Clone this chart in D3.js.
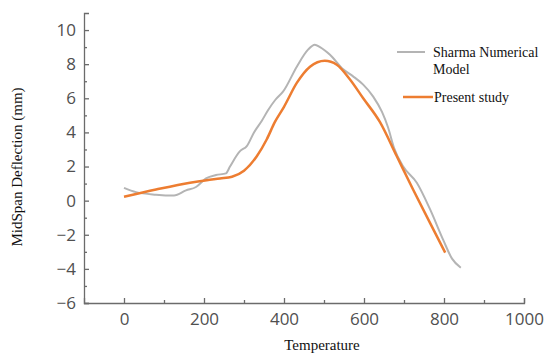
<!DOCTYPE html>
<html>
<head>
<meta charset="utf-8">
<script src="https://cdn.jsdelivr.net/npm/d3@7"></script>
<style>
  body { margin: 0; background: #fff; }
  svg { display: block; }
</style>
</head>
<body>
<div id="chart"></div>
<script>
// Sharma numerical model (grey)
const sharmaT = [0, 30, 80, 125, 155, 180, 205, 230, 255, 265, 290, 307, 325, 345, 360, 378, 398, 432, 460, 477, 490, 515, 548, 572, 598, 623, 645, 660, 675, 698, 732, 765, 798, 820, 842];
const sharmaD = [0.75, 0.5, 0.35, 0.3, 0.6, 0.8, 1.3, 1.5, 1.6, 2.0, 2.9, 3.2, 4.0, 4.7, 5.3, 5.9, 6.4, 7.85, 8.85, 9.14, 9.0, 8.55, 7.7, 7.3, 6.8, 6.1, 5.2, 4.3, 3.1, 2.0, 1.05, -0.5, -2.3, -3.4, -3.93];

// present study (orange)
const presentT = [0, 80, 165, 207, 240, 270, 300, 332, 357, 377, 400, 432, 465, 502, 532, 565, 598, 640, 682, 723, 765, 803];
const presentD = [0.23, 0.65, 1.05, 1.2, 1.3, 1.4, 1.75, 2.6, 3.6, 4.6, 5.5, 6.9, 7.85, 8.2, 7.97, 7.1, 6.0, 4.6, 2.6, 0.64, -1.3, -3.05];

const xTicks = [0, 200, 400, 600, 800, 1000];
const xMinor = [100, 300, 500, 700, 900];
const yTicks = [-6, -4, -2, 0, 2, 4, 6, 8, 10];
const yMinor = [-5, -3, -1, 1, 3, 5, 7, 9];

const w = 549, h = 353;
const svg = d3.select("#chart").append("svg")
    .attr("width", w)
    .attr("height", h);

const x = d3.scaleLinear().domain([-100, 1000]).range([84, 524]);
const y = d3.scaleLinear().domain([-6, 11]).range([303, 13]);

const axisColor = "#6b6b6b";
const labelColor = "#505050";

// x axis
svg.append("g").attr("transform", "translate(0,303)")
    .call(d3.axisBottom(x).tickValues(xTicks).tickSize(-5).tickSizeOuter(-5).tickPadding(10).tickFormat(d3.format("d")));
svg.append("g").attr("transform", "translate(0,303)")
    .call(d3.axisBottom(x).tickValues(xMinor).tickSize(-3).tickFormat(""))
    .call(g => g.select(".domain").remove());

// y axis
svg.append("g").attr("transform", "translate(84,0)")
    .call(d3.axisLeft(y).tickValues(yTicks).tickSize(-5).tickSizeOuter(-5).tickPadding(8));
svg.append("g").attr("transform", "translate(84,0)")
    .call(d3.axisLeft(y).tickValues(yMinor).tickSize(-3).tickFormat(""))
    .call(g => g.select(".domain").remove());

svg.selectAll(".domain, .tick line").attr("stroke", axisColor).attr("stroke-width", 1.3);
svg.selectAll(".tick text")
    .attr("fill", labelColor)
    .style("font-family", "'Open Sans', sans-serif")
    .style("font-size", "17px");

// lines
const line = d3.line()
    .x(d => x(d[0]))
    .y(d => y(d[1]))
    .curve(d3.curveMonotoneX);

svg.append("path")
    .datum(sharmaT.map((t, i) => [t, sharmaD[i]]))
    .attr("d", line)
    .attr("fill", "none")
    .attr("stroke", "#b4b4b4")
    .attr("stroke-width", 2);

svg.append("path")
    .datum(presentT.map((t, i) => [t, presentD[i]]))
    .attr("d", line)
    .attr("fill", "none")
    .attr("stroke", "#ed7d31")
    .attr("stroke-width", 2.5);

// axis titles
svg.append("text")
    .attr("transform", "translate(22,167) rotate(-90)")
    .attr("text-anchor", "middle")
    .style("font-family", "'Liberation Serif', serif")
    .style("font-size", "15px")
    .attr("fill", "#111")
    .text("MidSpan Deflection (mm)");

svg.append("text")
    .attr("x", 322)
    .attr("y", 350)
    .attr("text-anchor", "middle")
    .style("font-family", "'Liberation Serif', serif")
    .style("font-size", "15px")
    .attr("fill", "#111")
    .text("Temperature");

// legend
const leg = svg.append("g").style("font-family", "'Liberation Serif', serif").style("font-size", "14px").attr("fill", "#111");
leg.append("line").attr("x1", 397).attr("x2", 425).attr("y1", 52).attr("y2", 52)
    .attr("stroke", "#b4b4b4").attr("stroke-width", 2);
leg.append("text").attr("x", 433).attr("y", 57).text("Sharma Numerical");
leg.append("text").attr("x", 433).attr("y", 74).text("Model");
leg.append("line").attr("x1", 403).attr("x2", 433).attr("y1", 97).attr("y2", 97)
    .attr("stroke", "#ed7d31").attr("stroke-width", 2.5);
leg.append("text").attr("x", 434).attr("y", 102).text("Present study");
</script>
</body>
</html>
